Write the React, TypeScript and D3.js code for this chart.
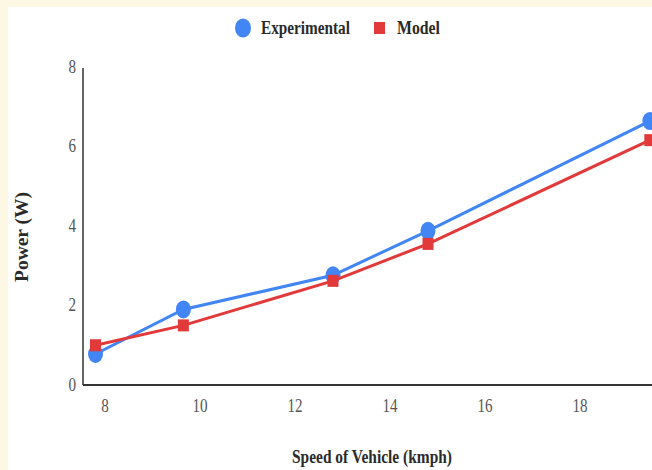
import React from "react";
import * as d3 from "d3";

const speeds = [7.8, 9.65, 12.8, 14.8, 19.47];
const experimental = [0.78, 1.9, 2.76, 3.88, 6.64];
const model = [1.0, 1.5, 2.62, 3.55, 6.16];
const xTicks = [8, 10, 12, 14, 16, 18];
const yTicks = [0, 2, 4, 6, 8];
const seriesNames = ["Experimental", "Model"];

const W = 652;
const H = 470;
const BLUE = "#4285f4";
const RED = "#e2393a";
const FONT = "'Liberation Serif', 'Times New Roman', serif";

function SText(props: {
  x: number; y: number; anchor?: string; sx?: number; size?: number;
  weight?: string; fill?: string; rotate?: number; children: React.ReactNode;
  textLength?: number;
}) {
  const { x, y, anchor = "start", sx = 0.84, size = 18, weight = "normal", fill = "#555", rotate = 0, children, textLength } = props;
  const tf = rotate ? `translate(${x},${y}) rotate(${rotate})` : `translate(${x},${y}) scale(${sx},1)`;
  return (
    <text
      transform={tf}
      textAnchor={anchor}
      fontFamily={FONT}
      fontSize={size}
      fontWeight={weight}
      fill={fill}
      dominantBaseline="central"
      textLength={textLength}
      lengthAdjust={textLength ? "spacingAndGlyphs" : undefined}
    >
      {children}
    </text>
  );
}

export default function App() {
  const x = d3.scaleLinear().domain([8, 18]).range([105, 580]);
  const y = d3.scaleLinear().domain([0, 8]).range([385, 67]);
  const line = d3.line<[number, number]>().x((d) => x(d[0])).y((d) => y(d[1]));
  const expPts: [number, number][] = speeds.map((s, i) => [s, experimental[i]]);
  const modPts: [number, number][] = speeds.map((s, i) => [s, model[i]]);
  const axisLeft = 83;
  const axisBottom = y(0);

  return (
    <div style={{ position: "absolute", left: 0, top: 0, width: W, height: H }}>
      <svg width={W} height={H} style={{ display: "block" }}>
        <rect x={0} y={0} width={W} height={H} fill="#fdf8e4" />
        <rect x={8} y={7} width={W - 8} height={H - 7} fill="#ffffff" />

        {/* legend */}
        <ellipse cx={243} cy={28} rx={8} ry={9.5} fill={BLUE} />
        <SText x={261} y={28} weight="bold" fill="#2b2b2b" textLength={89} sx={1}>{seriesNames[0]}</SText>
        <rect x={374} y={22} width={11} height={12} fill={RED} />
        <SText x={397} y={28} weight="bold" fill="#2b2b2b" textLength={43} sx={1}>{seriesNames[1]}</SText>

        {/* axes */}
        <line x1={axisLeft} x2={axisLeft} y1={y(8) + 1} y2={axisBottom} stroke="#333" strokeWidth={1.5} />
        <line x1={axisLeft} x2={W} y1={axisBottom} y2={axisBottom} stroke="#333" strokeWidth={2} />

        {yTicks.map((t) => (
          <SText key={"y" + t} x={76} y={y(t)} anchor="end">{t}</SText>
        ))}
        {xTicks.map((t) => (
          <SText key={"x" + t} x={x(t)} y={406} anchor="middle">{t}</SText>
        ))}

        <SText x={372} y={457} anchor="middle" weight="bold" fill="#2b2b2b" textLength={160} sx={1}>Speed of Vehicle (kmph)</SText>
        <SText x={22} y={237} anchor="middle" weight="bold" fill="#2b2b2b" rotate={-90} textLength={90}>Power (W)</SText>

        {/* series */}
        <path d={line(expPts) || ""} fill="none" stroke={BLUE} strokeWidth={3} />
        {expPts.map((d, i) => (
          <ellipse key={"e" + i} cx={x(d[0])} cy={y(d[1])} rx={7.5} ry={9} fill={BLUE} />
        ))}
        <path d={line(modPts) || ""} fill="none" stroke={RED} strokeWidth={3} />
        {modPts.map((d, i) => (
          <rect key={"m" + i} x={x(d[0]) - 5.5} y={y(d[1]) - 6} width={11} height={12} fill={RED} />
        ))}
      </svg>
    </div>
  );
}
